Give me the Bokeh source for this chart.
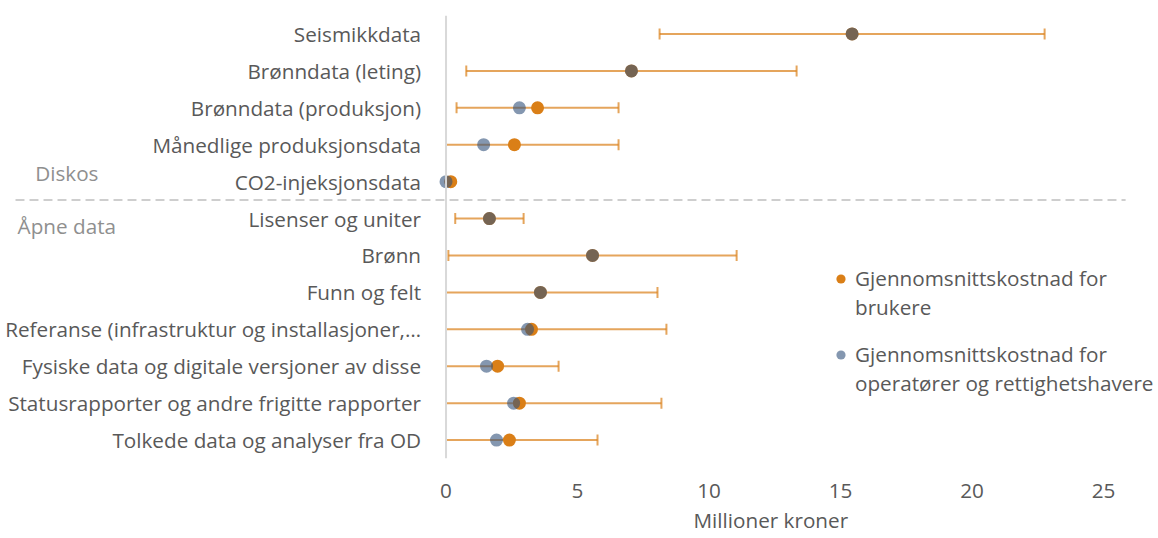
import numpy as np
from bokeh.plotting import figure
from bokeh.models import (Range1d, FactorRange, FixedTicker, Span, Label, Arrow,
                          Legend, LegendItem, Title)
from bokeh.core.properties import value
from bokeh.embed import file_html
from bokeh.resources import INLINE

# ---------------- data ----------------
categories = [
    "Seismikkdata",
    "Brønndata (leting)",
    "Brønndata (produksjon)",
    "Månedlige produksjonsdata",
    "CO2-injeksjonsdata",
    "Lisenser og uniter",
    "Brønn",
    "Funn og felt",
    "Referanse (infrastruktur og installasjoner,…",
    "Fysiske data og digitale versjoner av disse",
    "Statusrapporter og andre frigitte rapporter",
    "Tolkede data og analyser fra OD",
]
users = [15.44, 7.05, 3.48, 2.60, 0.18, 1.65, 5.57, 3.59, 3.25, 1.96, 2.79, 2.41]
operators = [15.44, 7.05, 2.79, 1.43, 0.00, 1.65, 5.57, 3.59, 3.10, 1.54, 2.57, 1.92]
err = [7.32, 6.28, 3.08, 3.96, 0.00, 1.30, 5.48, 4.45, 5.13, 2.32, 5.40, 3.35]
x_ticks = [0, 5, 10, 15, 20, 25]
group_labels = ["Diskos", "Åpne data"]
series_names = [["Gjennomsnittskostnad for", "brukere"],
                ["Gjennomsnittskostnad for", "operatører og rettighetshavere"]]
x_title = "Millioner kroner"

# ---------------- style ----------------
FONT = "Open Sans"
FS = "20.7px"
TXT = "#595959"
ORANGE = "#DA7F17"
BLUE = "#32527B"

u = np.array(users)
o = np.array(operators)
e = np.array(err)
lo_raw = u - e
lo = np.maximum(lo_raw, 0)
hi = u + e
cats = np.array(categories)

p = figure(width=1158, height=538,
           x_range=Range1d(-16.94, 27.09),
           y_range=FactorRange(factors=categories[::-1]),
           output_backend="svg", toolbar_location=None,
           min_border_left=0, min_border_right=0,
           min_border_top=15, min_border_bottom=80)

p.grid.visible = False
p.outline_line_color = None
p.background_fill_color = "white"

# vertical axis line at zero
p.add_layout(Span(location=0, dimension="height", line_color="#D9D9D9", line_width=2))

# category labels (left of the zero line)
p.text(x=0, y=categories, text=categories, x_offset=-25,
       text_align="right", text_baseline="middle",
       text_font=value(FONT), text_font_size=FS, text_color=TXT)

# error bars
p.segment(x0=lo, y0=categories, x1=hi, y1=categories,
          line_color=ORANGE, line_alpha=0.7, line_width=2)
m = e > 0
p.scatter(x=hi[m], y=cats[m].tolist(), marker="dash", angle=np.pi / 2, size=11,
          line_color=ORANGE, line_alpha=0.7, line_width=2)
m2 = (lo_raw > 0) & m
p.scatter(x=lo[m2], y=cats[m2].tolist(), marker="dash", angle=np.pi / 2, size=11,
          line_color=ORANGE, line_alpha=0.7, line_width=2)

# points
r_users = p.scatter(x=users, y=categories, size=13, fill_color=ORANGE, line_color=None)
r_ops = p.scatter(x=operators, y=categories, size=13, fill_color=BLUE,
                  fill_alpha=0.6, line_color=None)
r_blank = p.scatter(x=[], y=[], size=13, fill_alpha=0, line_alpha=0)

# separator + group labels
p.add_layout(Arrow(end=None, x_start=-16.37, y_start=7.0, x_end=25.84, y_end=7.0,
                   line_color="#BFBFBF", line_width=1.5, line_dash="9 5"))
p.add_layout(Label(x=-15.62, y=7.73, text=group_labels[0], text_baseline="middle",
                   text_font=FONT, text_font_size=FS, text_color="#8F8F8F"))
p.add_layout(Label(x=-16.29, y=6.31, text=group_labels[1], text_baseline="middle",
                   text_font=FONT, text_font_size=FS, text_color="#8F8F8F"))

# axes
p.yaxis.visible = False
p.xaxis.ticker = FixedTicker(ticks=x_ticks)
p.xaxis.axis_line_color = None
p.xaxis.major_tick_line_color = None
p.xaxis.minor_tick_line_color = None
p.xaxis.major_label_standoff = 19
p.xaxis.major_label_text_font = FONT
p.xaxis.major_label_text_font_size = FS
p.xaxis.major_label_text_color = TXT

# x-axis title, placed under the data area (not the full canvas)
p.add_layout(Title(text=x_title, align="left", offset=693, standoff=6,
                   text_font=FONT, text_font_size=FS, text_color=TXT,
                   text_font_style="normal"), "below")

# legends
def make_legend(r, lines, loc):
    lg = Legend(items=[LegendItem(label=lines[0], renderers=[r]),
                       LegendItem(label=lines[1], renderers=[r_blank])],
                location=loc, orientation="vertical",
                border_line_color=None, background_fill_alpha=0,
                padding=0, margin=0, spacing=1, label_standoff=3,
                glyph_width=23, glyph_height=23, label_height=27,
                label_text_font=FONT, label_text_font_size=FS, label_text_color=TXT)
    p.add_layout(lg)

make_legend(r_users, series_names[0], (829, 137))
make_legend(r_ops, series_names[1], (829, 61))

open("out.html", "w").write(file_html(p, INLINE))
